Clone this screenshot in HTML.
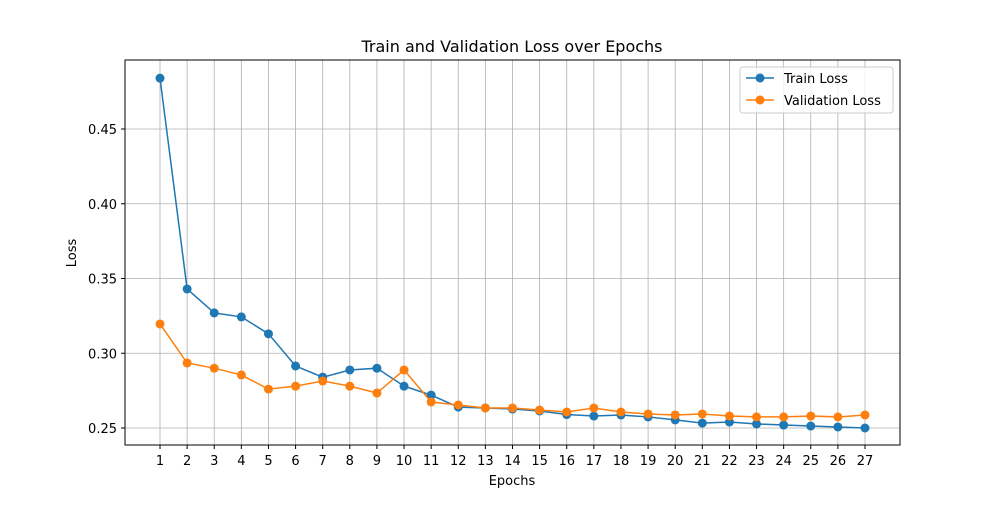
<!DOCTYPE html>
<html><head><meta charset="utf-8">
<style>body{margin:0;background:#fff}svg{font-family:"DejaVu Sans","Liberation Sans",sans-serif}</style>
</head><body>
<svg id="chart" width="1000" height="500">
<rect width="1000" height="500" fill="#fff"/>
<g id="grid"></g><g id="lines"></g>
<rect x="125" y="60" width="775" height="385" fill="none" stroke="#000" stroke-width="1"/>
<g id="axes"></g>
<text x="512" y="52" text-anchor="middle" font-size="16">Train and Validation Loss over Epochs</text>
<text x="512" y="485" text-anchor="middle" font-size="13">Epochs</text>
<text transform="translate(76,253) rotate(-90)" text-anchor="middle" font-size="13">Loss</text>
<g>
<rect x="740" y="67" width="153" height="46" rx="3" fill="#fff" fill-opacity="0.8" stroke="#ccc"/>
<g><line x1="746" y1="78" x2="774" y2="78" stroke="#1f77b4" stroke-width="1.5"/><circle cx="760" cy="78" r="4.5" fill="#1f77b4"/><text x="784" y="83" font-size="13">Train Loss</text></g>
<g><line x1="746" y1="100" x2="774" y2="100" stroke="#ff7f0e" stroke-width="1.5"/><circle cx="760" cy="100" r="4.5" fill="#ff7f0e"/><text x="784" y="105" font-size="13">Validation Loss</text></g>
</g>
</svg>
<script>
const epochs=[1,2,3,4,5,6,7,8,9,10,11,12,13,14,15,16,17,18,19,20,21,22,23,24,25,26,27];
const trainLoss=[0.484,0.343,0.327,0.3243,0.313,0.2915,0.284,0.2888,0.290,0.278,0.272,0.264,0.2634,0.2627,0.2614,0.259,0.258,0.2587,0.2574,0.2554,0.2533,0.254,0.2527,0.252,0.2513,0.2507,0.250];
const valLoss=[0.3196,0.2935,0.290,0.2855,0.276,0.278,0.2814,0.278,0.2734,0.2888,0.2674,0.2654,0.2634,0.2634,0.262,0.2607,0.2634,0.2607,0.2594,0.2587,0.2594,0.258,0.2574,0.2574,0.258,0.2574,0.2587];
const yTicks=[0.25,0.30,0.35,0.40,0.45];
const NS="http://www.w3.org/2000/svg";
const xs=e=>160+(e-1)*(705/26);
const ys=v=>428-(v-0.25)*1495;
function mk(t,a,p){const el=document.createElementNS(NS,t);for(const k in a)el.setAttribute(k,a[k]);p.appendChild(el);return el;}
const grid=document.getElementById('grid'),axes=document.getElementById('axes'),lines=document.getElementById('lines');
epochs.forEach(e=>{const x=xs(e);
 const g=mk('line',{x1:x,x2:x,y1:60,y2:445,stroke:'#b0b0b0','stroke-width':0.8},grid);
 
 
 mk('line',{x1:x,x2:x,y1:445,y2:449,stroke:'#000'},axes);
 const t=mk('text',{x:x,y:465,'text-anchor':'middle','font-size':13},axes);t.textContent=e;
 
 
});
yTicks.forEach(v=>{const y=ys(v);
 const g=mk('line',{x1:125,x2:900,y1:y,y2:y,stroke:'#b0b0b0','stroke-width':0.8},grid);
 
 
 mk('line',{x1:121,x2:125,y1:y,y2:y,stroke:'#000'},axes);
 const t=mk('text',{x:117,y:y+5,'text-anchor':'end','font-size':13},axes);t.textContent=v.toFixed(2);
 
 
});
function series(vals,color,name){
 const p=mk('polyline',{points:vals.map((v,i)=>xs(epochs[i])+','+ys(v)).join(' '),fill:'none',stroke:color,'stroke-width':1.5},lines);
 
 
 vals.forEach((v,i)=>{const c=mk('circle',{cx:xs(epochs[i]),cy:ys(v),r:4.5,fill:color},lines);
  
  });
}
series(trainLoss,'#1f77b4','train-loss');
series(valLoss,'#ff7f0e','validation-loss');
</script>
</body></html>
